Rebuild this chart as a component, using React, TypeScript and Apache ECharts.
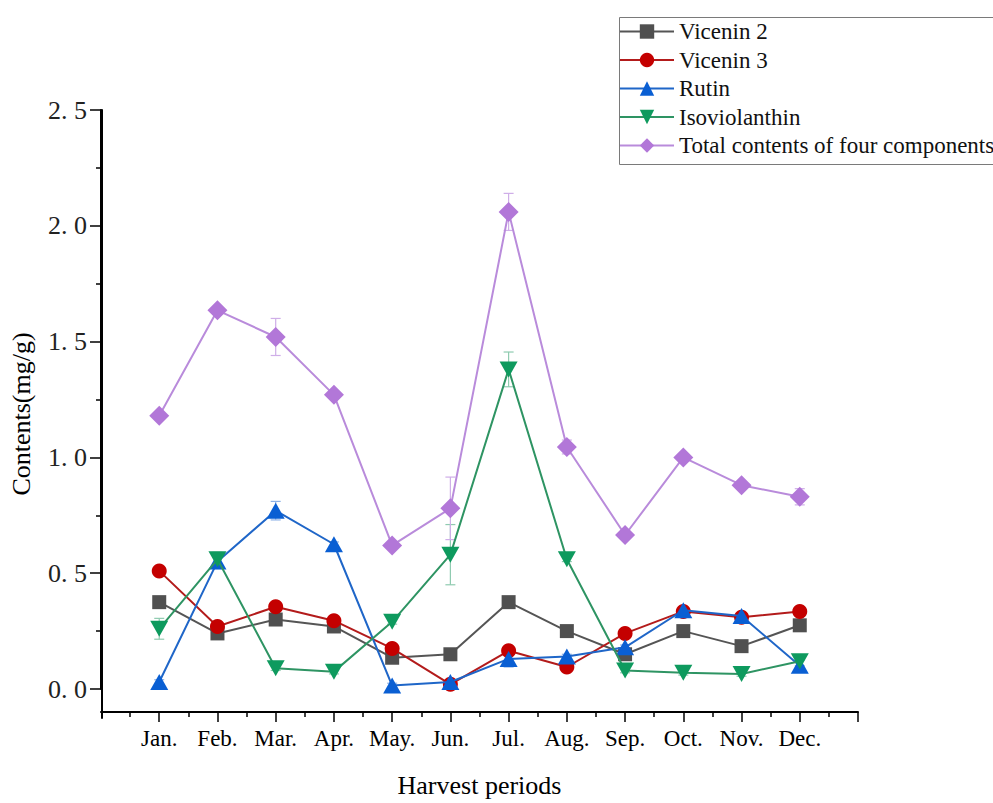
import React, { useEffect, useRef } from 'react';
import * as echarts from 'echarts';

const months = ['Jan.', 'Feb.', 'Mar.', 'Apr.', 'May.', 'Jun.', 'Jul.', 'Aug.', 'Sep.', 'Oct.', 'Nov.', 'Dec.'];

const vicenin2 = [0.375, 0.24, 0.30, 0.27, 0.135, 0.15, 0.375, 0.25, 0.15, 0.25, 0.185, 0.275];
const vicenin2Err = [0.01, 0.01, 0.01, 0.01, 0.01, 0.01, 0.01, 0.01, 0.01, 0.01, 0.01, 0.01];

const vicenin3 = [0.51, 0.27, 0.355, 0.295, 0.175, 0.02, 0.165, 0.095, 0.24, 0.335, 0.31, 0.335];
const vicenin3Err = [0.01, 0.01, 0.01, 0.01, 0.01, 0.01, 0.01, 0.01, 0.01, 0.01, 0.01, 0.01];

const rutin = [0.03, 0.55, 0.77, 0.625, 0.015, 0.03, 0.13, 0.14, 0.18, 0.34, 0.315, 0.10];
const rutinErr = [0.01, 0.03, 0.04, 0.01, 0.01, 0.01, 0.035, 0.01, 0.01, 0.01, 0.01, 0.025];

const isoviolanthin = [0.26, 0.56, 0.09, 0.075, 0.29, 0.58, 1.38, 0.56, 0.08, 0.07, 0.065, 0.12];
const isoviolanthinErr = [0.045, 0.03, 0.01, 0.01, 0.01, 0.13, 0.075, 0.01, 0.01, 0.01, 0.01, 0.02];

const total = [1.18, 1.635, 1.52, 1.27, 0.62, 0.78, 2.06, 1.045, 0.665, 1.0, 0.88, 0.83];
const totalErr = [0.015, 0.01, 0.08, 0.015, 0.01, 0.135, 0.08, 0.03, 0.01, 0.015, 0.01, 0.035];

const xTickValues = [1, 2, 3, 4, 5, 6, 7, 8, 9, 10, 11, 12, 13];
const xLabelValues = [1, 2, 3, 4, 5, 6, 7, 8, 9, 10, 11, 12];

const SERIF = '"Liberation Serif", "Times New Roman", serif';

const defs = [
  { name: 'Vicenin 2', values: vicenin2, errors: vicenin2Err, symbol: 'rect', size: 14, rotate: 0, marker: '#505050', line: '#555555', err: '#9a9a9a' },
  { name: 'Vicenin 3', values: vicenin3, errors: vicenin3Err, symbol: 'circle', size: 15, rotate: 0, marker: '#c40000', line: '#b31b1b', err: '#e08a8a' },
  { name: 'Rutin', values: rutin, errors: rutinErr, symbol: 'triangle', size: [18, 16], rotate: 0, marker: '#0a5fd3', line: '#1f66c8', err: '#8fb2e6' },
  { name: 'Isoviolanthin', values: isoviolanthin, errors: isoviolanthinErr, symbol: 'triangle', size: [18, 16], rotate: 180, marker: '#0e9a5e', line: '#2e9463', err: '#8fcbb0' },
  { name: 'Total contents of four components', values: total, errors: totalErr, symbol: 'diamond', size: 20, rotate: 0, marker: '#b277d8', line: '#b98bdb', err: '#cfaee8' },
];

export default function App() {
  const ref = useRef<HTMLDivElement>(null);
  useEffect(() => {
    if (!ref.current) return;
    document.body.style.margin = '0';
    const chart = echarts.init(ref.current, null, { renderer: 'svg', width: 993, height: 803 });
    const axisColor = '#000';

    const series: any[] = [];
    defs.forEach((d) => {
      series.push({
        type: 'custom',
        name: d.name + ' error',
        xAxisIndex: 0,
        yAxisIndex: 0,
        silent: true,
        z: 2,
        data: d.values.map((v, i) => [i + 1, v - d.errors[i], v + d.errors[i]]),
        encode: { x: 0, y: [1, 2] },
        renderItem: (params: any, api: any) => {
          const x = api.value(0);
          const lo = api.coord([x, api.value(1)]);
          const hi = api.coord([x, api.value(2)]);
          const half = 5;
          const style = { stroke: d.err, lineWidth: 1.2 };
          return {
            type: 'group',
            children: [
              { type: 'line', shape: { x1: lo[0], y1: lo[1], x2: hi[0], y2: hi[1] }, style },
              { type: 'line', shape: { x1: lo[0] - half, y1: lo[1], x2: lo[0] + half, y2: lo[1] }, style },
              { type: 'line', shape: { x1: hi[0] - half, y1: hi[1], x2: hi[0] + half, y2: hi[1] }, style },
            ],
          };
        },
      });
    });
    defs.forEach((d, idx) => {
      series.push({
        type: 'line',
        name: d.name,
        xAxisIndex: 0,
        yAxisIndex: 0,
        data: d.values.map((v, i) => [i + 1, v]),
        symbol: d.symbol,
        symbolSize: d.size,
        symbolRotate: d.rotate,
        showSymbol: true,
        clip: false,
        z: 3 + idx,
        itemStyle: { color: d.marker },
        lineStyle: { color: d.line, width: 2 },
      });
    });

    const option: any = {
      animation: false,
      backgroundColor: '#ffffff',
      graphic: [
        {
          type: 'rect',
          left: 617,
          top: 15,
          shape: { width: 480, height: 147 },
          style: { fill: 'none', stroke: '#7a7a7a', lineWidth: 1 },
          z: 100,
          silent: true,
        },
      ],
      legend: {
        data: defs.map((d) => d.name),
        orient: 'vertical',
        left: 619,
        top: 18,
        padding: 0,
        itemWidth: 54,
        itemHeight: 18,
        itemGap: 1.5,
        textStyle: { fontFamily: SERIF, fontSize: 23, color: '#111', lineHeight: 27 },
      },
      grid: [
        { left: 101, right: 135, top: 110, bottom: 108, containLabel: false },
        { left: 101, right: 135, top: 110, bottom: 85, containLabel: false },
      ],
      xAxis: [
        {
          type: 'value',
          gridIndex: 0,
          min: 0,
          max: 13,
          interval: 1,
          offset: 23,
          axisLine: { show: true, onZero: false, lineStyle: { color: axisColor, width: 2 } },
          axisTick: { show: true, length: 10, customValues: xTickValues, lineStyle: { color: axisColor, width: 1.5 } },
          minorTick: { show: true, splitNumber: 2, length: 5, lineStyle: { color: axisColor, width: 1.5 } },
          axisLabel: {
            customValues: xLabelValues,
            formatter: (v: number) => months[Math.round(v) - 1] ?? '',
            fontFamily: SERIF,
            fontSize: 23,
            color: '#000',
            margin: 15,
          },
          splitLine: { show: false },
          minorSplitLine: { show: false },
          name: 'Harvest periods',
          nameLocation: 'middle',
          nameGap: 60,
          nameTextStyle: { fontFamily: SERIF, fontSize: 26, color: '#000' },
        },
        { type: 'value', gridIndex: 1, min: 0, max: 13, show: false },
      ],
      yAxis: [
        {
          type: 'value',
          gridIndex: 0,
          min: 0,
          max: 2.5,
          interval: 0.5,
          axisLine: { show: true, onZero: false, lineStyle: { color: axisColor, width: 2 } },
          axisTick: { show: true, length: 11, lineStyle: { color: axisColor, width: 1.5 } },
          minorTick: { show: true, splitNumber: 2, length: 5, lineStyle: { color: axisColor, width: 1.5 } },
          axisLabel: {
            formatter: (v: number) => v.toFixed(1).replace('.', '. '),
            fontFamily: SERIF,
            fontSize: 26,
            color: '#222',
            margin: 14,
          },
          splitLine: { show: false },
          minorSplitLine: { show: false },
        },
        {
          type: 'value',
          gridIndex: 1,
          min: -0.1,
          max: 2.5,
          axisLine: { show: true, onZero: false, lineStyle: { color: axisColor, width: 2 } },
          axisTick: { show: false },
          axisLabel: { show: false },
          splitLine: { show: false },
          name: 'Contents(mg/g)',
          nameLocation: 'middle',
          nameGap: 68,
          nameTextStyle: { fontFamily: SERIF, fontSize: 26, color: '#000' },
        },
      ],
      series,
    };
    chart.setOption(option);
    return () => chart.dispose();
  }, []);
  return <div ref={ref} style={{ position: 'absolute', left: 0, top: 0, width: 993, height: 803, background: '#fff' }} />;
}
